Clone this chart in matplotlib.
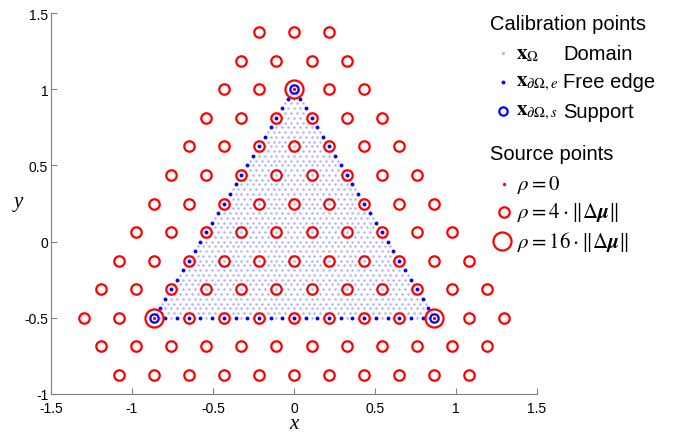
import numpy as np
import matplotlib
matplotlib.use("Agg")
import matplotlib.pyplot as plt

plt.rcParams['font.family'] = ['Liberation Sans', 'DejaVu Sans']
plt.rcParams['mathtext.fontset'] = 'stix'
plt.rcParams['axes.unicode_minus'] = False

# --- data ---
# triangle corners (support points)
corner_x = [0.0, -np.sqrt(3) / 2, np.sqrt(3) / 2]
corner_y = [1.0, -0.5, -0.5]

n_domain = 48      # subdivisions per side, domain calibration points
n_edge = 24        # subdivisions per side, free edge points

# source point lattice: rows (y) and number of points in each row
src_row_y = [1.375, 1.1875, 1.0, 0.8125, 0.625, 0.4375, 0.25, 0.0625,
             -0.125, -0.3125, -0.5, -0.6875, -0.875]
src_row_n = [3, 4, 5, 6, 7, 8, 9, 10, 11, 12, 13, 12, 11]
src_dx = np.sqrt(3) / 8

xticks = [-1.5, -1, -0.5, 0, 0.5, 1, 1.5]
yticks = [-1, -0.5, 0, 0.5, 1, 1.5]

# --- build point sets ---
A = np.array([corner_x[1], corner_y[1]])
B = np.array([corner_x[2], corner_y[2]])
C = np.array([corner_x[0], corner_y[0]])

dom = []
for i in range(n_domain + 1):
    for j in range(n_domain + 1 - i):
        dom.append(A + (B - A) * j / n_domain + (C - A) * i / n_domain)
dom = np.array(dom)

edge = []
for P, Q in [(A, B), (B, C), (C, A)]:
    for k in range(1, n_edge):
        edge.append(P + (Q - P) * k / n_edge)
edge = np.array(edge)

src = []
for y, n in zip(src_row_y, src_row_n):
    for k in range(n):
        src.append(((k - (n - 1) / 2) * src_dx, y))
src = np.array(src)
is_corner = np.zeros(len(src), bool)
for cx, cy in zip(corner_x, corner_y):
    is_corner |= (np.abs(src[:, 0] - cx) < 1e-6) & (np.abs(src[:, 1] - cy) < 1e-6)
src_mid = src[~is_corner]

# --- plot ---
fig = plt.figure(figsize=(6.83, 4.35), dpi=100)
ax = fig.add_axes([51 / 683, 40 / 435, 486 / 683, 381 / 435])

light = '#b0b0ff'
ax.plot(dom[:, 0], dom[:, 1], 'o', ms=1.8, mew=0, color=light)
ax.plot(src_mid[:, 0], src_mid[:, 1], 'o', ms=7.5, mfc='none', mec='red', mew=1.6)
ax.plot(edge[:, 0], edge[:, 1], 'o', ms=2.8, mew=0, color='blue')
ax.plot(corner_x, corner_y, 'o', ms=6, mfc='none', mec='blue', mew=1.6)
ax.plot(corner_x, corner_y, 'o', ms=13, mfc='none', mec='red', mew=1.6)
ax.plot(corner_x, corner_y, 'o', ms=2.4, mew=0, color='red')

ax.set_xlim(-1.5, 1.5)
ax.set_ylim(-1, 1.5)
ax.set_xticks(xticks)
ax.set_yticks(yticks)
ax.set_xticklabels(['%g' % t for t in xticks])
ax.set_yticklabels(['%g' % t for t in yticks])
for s in ['top', 'right']:
    ax.spines[s].set_visible(False)
for s in ['left', 'bottom']:
    ax.spines[s].set_color('#808080')
ax.tick_params(direction='in', length=4, color='#808080', labelsize=10)
ax.tick_params(axis='x', pad=5)
ax.tick_params(axis='y', pad=2)
ax.set_xlabel('x', fontsize=15, family='Liberation Serif', style='italic', va='center')
ax.set_ylabel('y', fontsize=15, family='Liberation Serif', style='italic',
              rotation=0, va='center', ha='center')
ax.xaxis.set_label_coords(0.5, -0.078)
ax.yaxis.set_label_coords(-0.068, 0.504)

# --- legend (drawn by hand, pixel coordinates) ---
lg = fig.add_axes([0, 0, 1, 1])
lg.set_xlim(0, 683)
lg.set_ylim(435, 0)
lg.axis('off')

tfs = 14.5
mfs = 15
lg.text(490, 25, 'Calibration points', fontsize=tfs, va='center')
lg.plot([503], [54], 'o', ms=2.2, mew=0, color=light)
lg.plot([503], [83], 'o', ms=2.8, mew=0, color='blue')
lg.plot([503], [112], 'o', ms=6, mfc='none', mec='blue', mew=1.6)
lg.text(516, 54, r'$\mathbf{x}_{\Omega}$', fontsize=mfs, va='center')
lg.text(516, 83, r'$\mathbf{x}_{\partial\Omega,e}$', fontsize=mfs, va='center')
lg.text(516, 112, r'$\mathbf{x}_{\partial\Omega,s}$', fontsize=mfs, va='center')
lg.text(563, 54, 'Domain', fontsize=tfs, va='center')
lg.text(563, 83, 'Free edge', fontsize=tfs, va='center')
lg.text(563, 112, 'Support', fontsize=tfs, va='center')

lg.text(490, 155, 'Source points', fontsize=tfs, va='center')
lg.plot([504], [185], 'o', ms=2.4, mew=0, color='red')
lg.plot([504], [213], 'o', ms=7.5, mfc='none', mec='red', mew=1.6)
lg.plot([502], [242], 'o', ms=13, mfc='none', mec='red', mew=1.6)
lg.text(517, 185, r'$\rho = 0$', fontsize=mfs, va='center')
lg.text(517, 213, r'$\rho = 4\cdot\left\Vert\Delta\boldsymbol{\mu}\right\Vert$', fontsize=mfs, va='center')
lg.text(517, 242, r'$\rho = 16\cdot\left\Vert\Delta\boldsymbol{\mu}\right\Vert$', fontsize=mfs, va='center')

fig.savefig('out.png', dpi=100)
